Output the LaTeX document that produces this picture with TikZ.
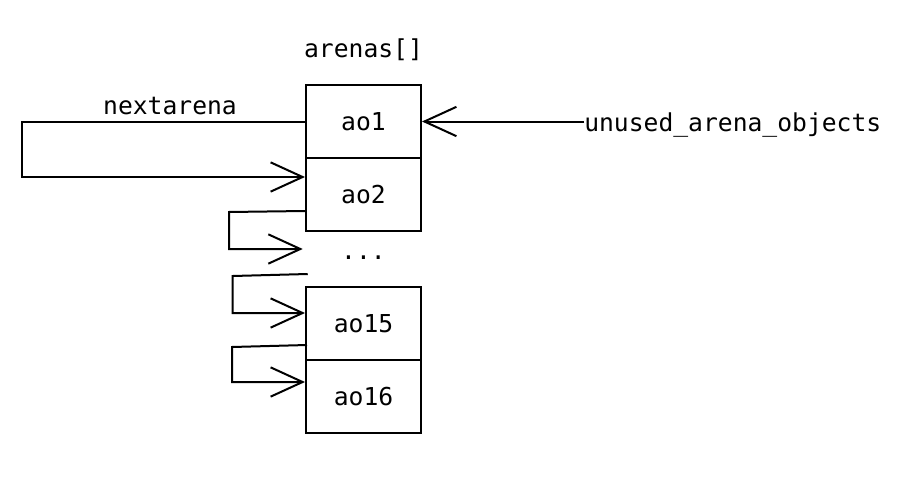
\documentclass[tikz,border=0pt]{standalone}
\usepackage{fontspec}
\setmonofont{DejaVu Sans Mono}
\usetikzlibrary{arrows.meta, calc, positioning}
\tikzset{
  slot/.style={draw, line width=1.5pt, minimum width=86.25pt, minimum height=54.75pt, inner sep=0pt},
  barb/.style={line width=1.5pt, -{Straight Barb[length=24pt, width=22pt, line width=1.5pt]}},
  lbl/.style={inner sep=0pt}
}
\begin{document}
\begin{tikzpicture}[x=0.75pt, y=-0.75pt, font=\ttfamily\fontsize{18.5}{22}\selectfont]
	\useasboundingbox (0, 0) rectangle (909, 478);
	% the array
	\node[slot] (ao1) at (363.5, 121.5) {ao1};
	\node[slot] (ao2) at (363.5, 194.5) {ao2};
	\node[lbl, minimum width=86.25pt] (dots) at (363.5, 258) {...};
	\node[slot] (ao15) at (363.5, 323.5) {ao15};
	\node[slot] (ao16) at (363.5, 396.5) {ao16};
	\node[lbl] (arenas) at (363.5, 50) {arenas[]};
	\node[lbl, anchor=west] (unused) at (584, 125) {unused\_arena\_objects};
	\node[lbl] (next) at (170, 106) {nextarena};
	% links
	\draw[barb] (unused.west |- ao1.east) -- (ao1.east);
	\draw[barb] (ao1.west) -- ++(-283, 0) |- ($(ao2.north west)+(0, 20)$);
	\draw[barb] ($(ao2.south west)+(0, -21)$) -- ++(-76, 1) |- ($(dots.west)+(-3, -9)$);
	\draw[barb] ($(dots.west)+(2, 16)$) -- ++(-75, 2) |- ($(ao15.north west)+(0, 27)$);
	\draw[barb] ($(ao15.south west)+(2, -16)$) -- ++(-75, 2) |- ($(ao16.north west)+(0, 23)$);
\end{tikzpicture}
\end{document}
